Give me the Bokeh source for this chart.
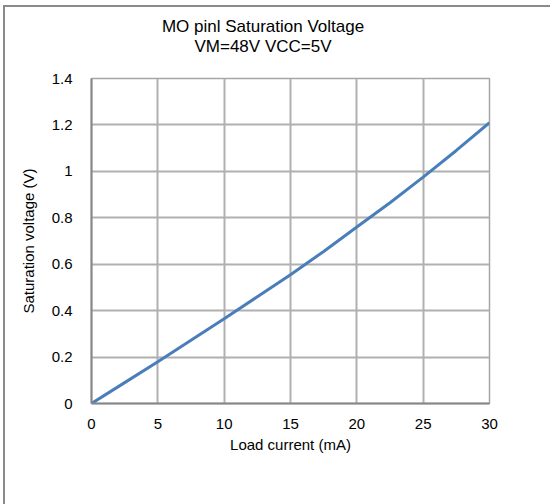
from bokeh.plotting import figure
from bokeh.layouts import column
from bokeh.models import FixedTicker, CustomJSTickFormatter, Div, Range1d
from bokeh.embed import file_html
from bokeh.resources import INLINE

load_current = [0, 2.5, 5, 7.5, 10, 12.5, 15, 17.5, 20, 22.5, 25, 27.5, 30]
sat_voltage = [0, 0.09, 0.18, 0.272, 0.365, 0.46, 0.555, 0.655, 0.76, 0.865, 0.975, 1.09, 1.21]
x_ticks = [0, 5, 10, 15, 20, 25, 30]
y_ticks = [0, 0.2, 0.4, 0.6, 0.8, 1.0, 1.2, 1.4]
title_lines = ["MO pinl Saturation Voltage", "VM=48V VCC=5V"]

FONT = "Liberation Sans"

title_div = Div(text="<br>".join(title_lines), width=550, height=68, margin=0,
                styles={"font-family": FONT, "font-size": "17px", "line-height": "20px",
                        "color": "black", "text-align": "center",
                        "padding-top": "17px", "padding-right": "24px",
                        "box-sizing": "border-box", "white-space": "nowrap"})

p = figure(width=550, height=436, output_backend="svg", toolbar_location=None,
           x_range=Range1d(0, 30), y_range=Range1d(0, 1.4), margin=0,
           min_border_left=91, min_border_right=61, min_border_top=10, min_border_bottom=101)
p.background_fill_color = "white"
p.border_fill_color = None
p.outline_line_color = "#a6a6a6"
p.outline_line_width = 1.5

p.line(load_current, sat_voltage, line_color="#4a7ebb", line_width=3)

for ax in (p.xaxis[0], p.yaxis[0]):
    ax.axis_line_color = "#868686"
    ax.axis_line_width = 2
    ax.major_tick_line_color = None
    ax.minor_tick_line_color = None
    ax.major_label_text_font = FONT
    ax.major_label_text_font_size = "15px"
    ax.major_label_text_color = "black"
    ax.axis_label_text_font = FONT
    ax.axis_label_text_font_size = "15px"
    ax.axis_label_text_font_style = "normal"
    ax.axis_label_text_color = "black"

p.xaxis.ticker = FixedTicker(ticks=x_ticks)
p.yaxis.ticker = FixedTicker(ticks=y_ticks)
p.yaxis.formatter = CustomJSTickFormatter(code="return Number(tick.toFixed(1)).toString();")
p.xaxis.axis_label = "Load current (mA)"
p.yaxis.axis_label = "Saturation voltage (V)"
p.xaxis.major_label_standoff = 9
p.yaxis.major_label_standoff = 13
p.xaxis.axis_label_standoff = 4
p.yaxis.axis_label_standoff = 12

p.grid.grid_line_color = "#b0b0b0"
p.grid.grid_line_width = 2
p.xgrid.ticker = FixedTicker(ticks=x_ticks)
p.ygrid.ticker = FixedTicker(ticks=y_ticks)

layout = column(title_div, p, spacing=0)
# outer frame of the picture: top and left edges only
layout.styles = {
    "background-color": "white",
    "background-image": "linear-gradient(#8a8a8a,#8a8a8a), linear-gradient(#8a8a8a,#8a8a8a)",
    "background-size": "2px 100%, 100% 2px",
    "background-position": "3px 5px, 3px 5px",
    "background-repeat": "no-repeat",
}

open("out.html", "w").write(file_html(layout, INLINE))
